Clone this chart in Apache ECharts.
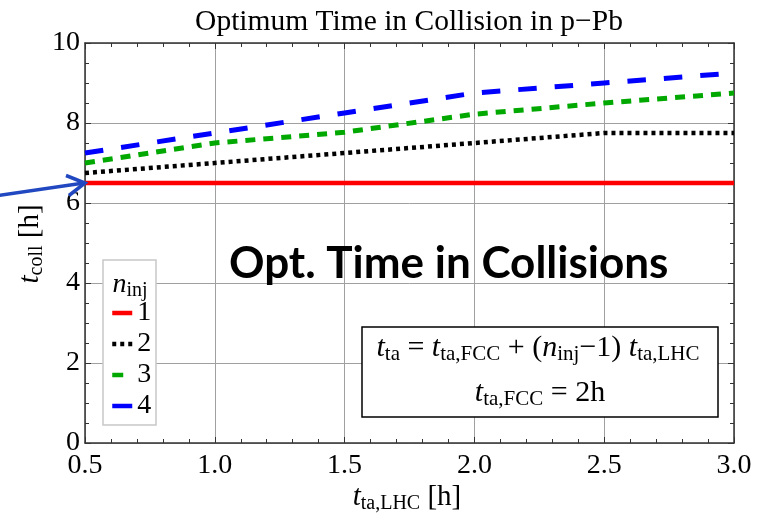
<!DOCTYPE html>
<html><head><meta charset="utf-8">
<script src="https://cdn.jsdelivr.net/npm/echarts@6/dist/echarts.min.js"></script>
<style>html,body{margin:0;padding:0;background:#fff}#c{width:765px;height:521px}</style>
</head><body><div id="c"></div>
<script>
// ---- data ----
const xValues = [0.5, 1.0, 1.5, 2.0, 2.5, 3.0];
const nInj1 = [6.5, 6.5, 6.5, 6.5, 6.5, 6.5];
const nInj2 = [6.75, 7.0, 7.25, 7.5, 7.75, 7.75];
const nInj3 = [7.0, 7.5, 7.77, 8.22, 8.5, 8.75];
const nInj4 = [7.25, 7.75, 8.25, 8.75, 9.0, 9.25];
const seriesNames = ['1', '2', '3', '4'];
const xTickLabels = ['0.5', '1.0', '1.5', '2.0', '2.5', '3.0'];
const yTickLabels = ['0', '2', '4', '6', '8', '10'];

const SERIF = 'Liberation Serif';
const AX = '#333';

function mathRich(size, sub, lh, subLh) {
  return {
    it: {fontFamily: SERIF, fontStyle: 'italic', fontSize: size, lineHeight: lh, verticalAlign: 'middle', color: '#000'},
    rm: {fontFamily: SERIF, fontSize: size, lineHeight: lh, verticalAlign: 'middle', color: '#000'},
    sub: {fontFamily: SERIF, fontSize: sub, lineHeight: subLh, verticalAlign: 'bottom', color: '#000'}
  };
}
const richBig = mathRich(30, 21, 34, 16);
const richAxis = mathRich(29, 20, 33, 16);

function axisBase(extra) {
  return Object.assign({
    axisLine: {show: true, onZero: false, lineStyle: {color: AX, width: 1.5}},
    axisTick: {show: true, inside: true, length: 6, lineStyle: {color: AX, width: 1}},
    splitLine: {show: false}
  }, extra);
}

const pairs = arr => xValues.map((x, i) => [x, arr[i]]);

const chart = echarts.init(document.getElementById('c'), null, {renderer: 'canvas'});

const option = {
  animation: false,
  backgroundColor: '#fff',
  grid: {left: 85, right: 31, top: 43, bottom: 78, containLabel: false},
  xAxis: [
    axisBase({
      type: 'value', position: 'bottom', min: 0.5, max: 3.0, interval: 0.5,
      minorTick: {show: true, splitNumber: 5, length: 4, lineStyle: {color: AX}},
      splitLine: {show: true, lineStyle: {color: '#a0a0a0', width: 1}},
      axisLabel: {fontFamily: SERIF, fontSize: 28, color: '#000', margin: 9,
        formatter: v => xTickLabels[Math.round((v - 0.5) / 0.5)]}
    }),
    axisBase({
      type: 'value', position: 'top', min: 0.5, max: 3.0, interval: 0.5,
      minorTick: {show: true, splitNumber: 5, length: 4, lineStyle: {color: AX}},
      axisLabel: {show: false}
    })
  ],
  yAxis: [
    axisBase({
      type: 'value', position: 'left', min: 0, max: 10, interval: 2,
      minorTick: {show: true, splitNumber: 4, length: 4, lineStyle: {color: AX}},
      splitLine: {show: true, lineStyle: {color: '#a0a0a0', width: 1}},
      axisLabel: {fontFamily: SERIF, fontSize: 28, color: '#000', margin: 5,
        formatter: v => yTickLabels[Math.round(v / 2)]}
    }),
    axisBase({
      type: 'value', position: 'right', min: 0, max: 10, interval: 2,
      minorTick: {show: true, splitNumber: 4, length: 4, lineStyle: {color: AX}},
      axisLabel: {show: false}
    })
  ],
  legend: {
    orient: 'vertical', left: 110, top: 298, itemWidth: 20, itemHeight: 14, itemGap: 1,
    padding: 0, selectedMode: false, z: 6,
    itemStyle: {opacity: 0},
    lineStyle: {width: 4.5},
    textStyle: {fontFamily: SERIF, fontSize: 28, color: '#000', lineHeight: 30},
    data: [
      {name: seriesNames[0]},
      {name: seriesNames[1]},
      {name: seriesNames[2], lineStyle: {width: 4.5, type: [11, 20]}},
      {name: seriesNames[3], lineStyle: {width: 4.5, type: 'solid'}}
    ]
  },
  series: [
    {name: seriesNames[0], type: 'line', symbol: 'none', data: pairs(nInj1), z: 5,
      lineStyle: {color: '#ff0000', width: 4.5, type: 'solid'}, itemStyle: {color: '#ff0000'}},
    {name: seriesNames[1], type: 'line', symbol: 'none', data: pairs(nInj2), z: 4,
      lineStyle: {color: '#000000', width: 4.5, type: [4, 4], cap: 'butt'}, itemStyle: {color: '#000'}},
    {name: seriesNames[2], type: 'line', symbol: 'none', data: pairs(nInj3), z: 3,
      lineStyle: {color: '#00a800', width: 5, type: [10, 8], cap: 'butt'}, itemStyle: {color: '#00a800'}},
    {name: seriesNames[3], type: 'line', symbol: 'none', data: pairs(nInj4), z: 3,
      lineStyle: {color: '#0000ff', width: 5, type: [18.5, 18], cap: 'butt'}, itemStyle: {color: '#0000ff'}}
  ],
  graphic: [
    // title
    {type: 'text', x: 409, y: 22, z: 10, style: {text: 'Optimum Time in Collision in p\u2212Pb',
      fontFamily: SERIF, fontSize: 29.5, fill: '#000', align: 'center', verticalAlign: 'middle'}},
    // y axis title
    {type: 'text', x: 30, y: 244, rotation: Math.PI / 2, z: 10, style: {
      text: '{it|t}{sub|coll}{rm| [h]}', rich: richAxis, align: 'center', verticalAlign: 'middle'}},
    // x axis title
    {type: 'text', x: 407, y: 497, z: 10, style: {
      text: '{it|t}{sub|ta,LHC}{rm| [h]}', rich: richAxis, align: 'center', verticalAlign: 'middle'}},
    // legend box
    {type: 'rect', z: 5, shape: {x: 103, y: 260, width: 53, height: 165},
      style: {fill: '#fff', stroke: '#c8c8c8', lineWidth: 1.5}},
    {type: 'text', x: 130, y: 285, z: 7, style: {
      text: '{it|n}{sub|inj}', rich: mathRich(28, 20, 32, 16), align: 'center', verticalAlign: 'middle'}},
    // big label
    {type: 'text', x: 229, y: 264, z: 10, style: {text: 'Opt. Time in Collisions',
      fontFamily: 'Lato', fontWeight: 'bold', fontSize: 44, fill: '#000', align: 'left', verticalAlign: 'middle'}},
    // formula box
    {type: 'rect', z: 5, shape: {x: 362, y: 327, width: 356, height: 90},
      style: {fill: '#fff', stroke: '#000', lineWidth: 1.5}},
    {type: 'text', x: 538, y: 348, z: 7, style: {
      text: '{it|t}{sub|ta}{rm| = }{it|t}{sub|ta,FCC}{rm| + (}{it|n}{sub|inj}{rm|\u22121) }{it|t}{sub|ta,LHC}',
      rich: richBig, align: 'center', verticalAlign: 'middle'}},
    {type: 'text', x: 540, y: 393, z: 7, style: {
      text: '{it|t}{sub|ta,FCC}{rm| = 2h}', rich: richBig, align: 'center', verticalAlign: 'middle'}}
  ]
};
chart.setOption(option);

// arrow pointing at the n_inj = 1 level on the y axis
const tip = chart.convertToPixel({xAxisIndex: 0, yAxisIndex: 0}, [xValues[0], nInj1[0]]);
const arrowColor = '#2148c0';
option.graphic.push(
  {type: 'line', z: 11, shape: {x1: tip[0] - 90, y1: tip[1] + 13, x2: tip[0] - 1, y2: tip[1]},
    style: {stroke: arrowColor, lineWidth: 3.5}},
  {type: 'polyline', z: 11, shape: {points: [[tip[0] - 19, tip[1] - 7.5], [tip[0], tip[1]], [tip[0] - 16, tip[1] + 12.5]]},
    style: {stroke: arrowColor, lineWidth: 3.5, fill: null, lineJoin: 'miter'}}
);
chart.setOption({graphic: option.graphic});
</script></body></html>
